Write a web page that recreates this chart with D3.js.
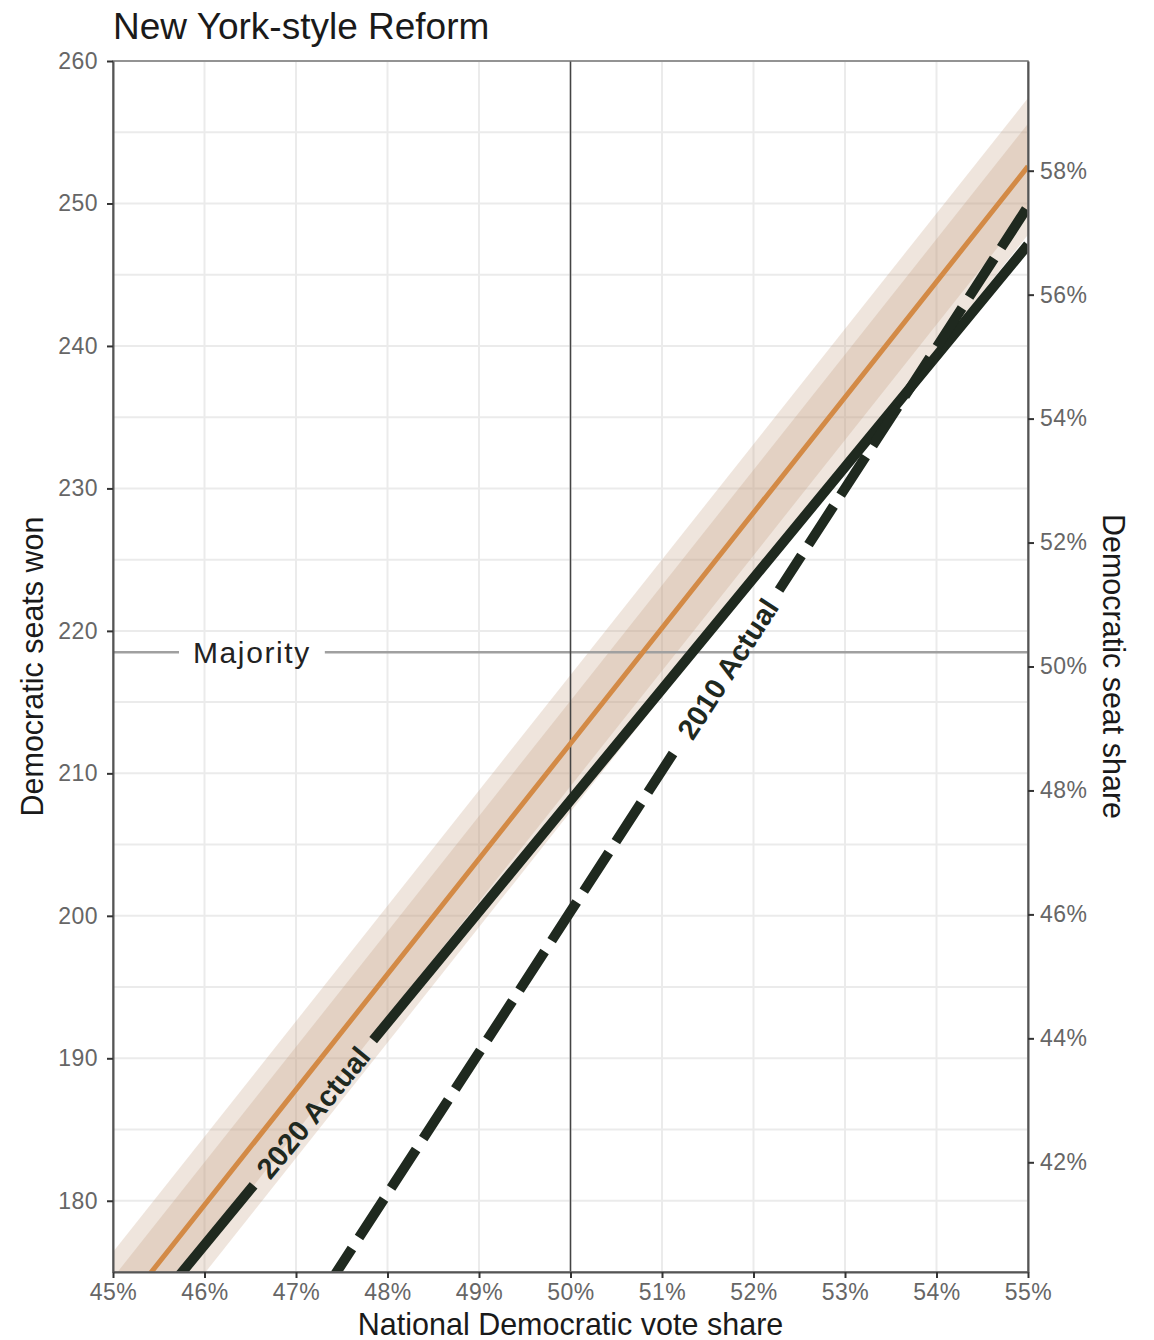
<!DOCTYPE html>
<html>
<head>
<meta charset="utf-8">
<script src="https://cdn.jsdelivr.net/npm/d3@7"></script>
<style>
  html, body { margin: 0; padding: 0; background: #fff; }
  svg { display: block; font-family: "Liberation Sans", Arial, Helvetica, sans-serif; }
</style>
</head>
<body>
<svg id="chart" width="1154" height="1340"></svg>
<script>
// National vote share (%) at which each series is recorded
const voteShare = [45, 50, 55];

// Projected Democratic seats under the reform, with its uncertainty bands
const projected  = [171.6, 212.1, 252.6];
const innerLow   = [168.6, 209.1, 249.6];
const innerHigh  = [174.6, 215.1, 255.6];
const outerLow   = [166.8, 207.3, 247.8];
const outerHigh  = [176.4, 216.9, 257.4];

// Seat curves from the actual maps
const actual2020 = [169.1, 208.1, 247.1];
const actual2010 = [150.8, 200.3, 249.8];

// Axis ticks
const xTicks = [45, 46, 47, 48, 49, 50, 51, 52, 53, 54, 55];
const yTicks = [180, 190, 200, 210, 220, 230, 240, 250, 260];
const yMinorTicks = [175, 185, 195, 205, 215, 225, 235, 245, 255];
const shareTicks = [42, 44, 46, 48, 50, 52, 54, 56, 58];
const totalSeats = 435;
const majoritySeats = 218.5;

// Labels laid on the lines (position given as vote share)
const lineLabels = [
  { text: "2020 Actual", series: actual2020, at: 47.19 },
  { text: "2010 Actual", series: actual2010, at: 51.72 }
];

const svg = d3.select("#chart");
const m = { left: 113, right: 1028, top: 61, bottom: 1272 };

const x = d3.scaleLinear().domain([45, 55]).range([m.left, m.right]);
const y = d3.scaleLinear().domain([175, 260]).range([m.bottom, m.top]);

const grid = "#ebebeb";
const dark = "#1f291f";
const orange = "#d38a46";
const bandFill = "rgb(190,150,120)";

const defs = svg.append("defs");
defs.append("clipPath").attr("id", "plotClip")
  .append("rect")
  .attr("x", m.left).attr("y", m.top)
  .attr("width", m.right - m.left).attr("height", m.bottom - m.top);

// Grid
const g = svg.append("g");
g.selectAll(".hminor").data(yMinorTicks).join("line")
  .attr("x1", m.left).attr("x2", m.right)
  .attr("y1", d => y(d)).attr("y2", d => y(d))
  .attr("stroke", grid).attr("stroke-width", 2);
g.selectAll(".hmajor").data(yTicks).join("line")
  .attr("x1", m.left).attr("x2", m.right)
  .attr("y1", d => y(d)).attr("y2", d => y(d))
  .attr("stroke", grid).attr("stroke-width", 2);
g.selectAll(".vmajor").data(xTicks).join("line")
  .attr("x1", d => x(d)).attr("x2", d => x(d))
  .attr("y1", m.top).attr("y2", m.bottom)
  .attr("stroke", grid).attr("stroke-width", 2);

const plot = svg.append("g").attr("clip-path", "url(#plotClip)");

// Uncertainty ribbons
const rows = voteShare.map((v, i) => ({ v, i }));
const area = (lo, hi) => d3.area()
  .x(d => x(d.v)).y0(d => y(lo[d.i])).y1(d => y(hi[d.i]));
plot.append("path").datum(rows).attr("d", area(outerLow, outerHigh)(rows))
  .attr("fill", bandFill).attr("fill-opacity", 0.25);
plot.append("path").datum(rows).attr("d", area(innerLow, innerHigh)(rows))
  .attr("fill", bandFill).attr("fill-opacity", 0.25);

// Majority line with a break for its label
const majY = y(majoritySeats);
const majLabelX = 193;
const majText = svg.append("text")
  .attr("x", majLabelX).attr("y", majY)
  .attr("dominant-baseline", "central")
  .attr("font-size", 30).attr("fill", "#222")
  .attr("letter-spacing", 1.6)
  .text("Majority");
const majW = majText.node().getComputedTextLength();
plot.append("line")
  .attr("x1", m.left).attr("x2", majLabelX - 14)
  .attr("y1", majY).attr("y2", majY)
  .attr("stroke", "#a0a0a0").attr("stroke-width", 2.5);
plot.append("line")
  .attr("x1", majLabelX + majW + 14).attr("x2", m.right)
  .attr("y1", majY).attr("y2", majY)
  .attr("stroke", "#a0a0a0").attr("stroke-width", 2.5);

// 50% vote share reference line
plot.append("line")
  .attr("x1", x(50)).attr("x2", x(50))
  .attr("y1", m.top).attr("y2", m.bottom)
  .attr("stroke", "#444").attr("stroke-width", 1.5);

// Helpers for line labels
const lineAt = (series, v) => {
  const s = d3.scaleLinear().domain(voteShare).range(series);
  return s(v);
};
const lineGen = series => d3.line()
  .x(d => x(d.v)).y(d => y(series[d.i]));

// Label geometry and masks that open a gap in each labelled line
const labelFont = 29;
lineLabels.forEach((lab, k) => {
  const ang = -Math.atan2(y(lab.series[2]) - y(lab.series[0]), x(55) - x(45)) * 180 / Math.PI;
  lab.cx = x(lab.at);
  lab.cy = y(lineAt(lab.series, lab.at));
  lab.angle = -ang;
  const tmp = svg.append("text").attr("font-size", labelFont).attr("font-weight", "bold").text(lab.text);
  lab.w = tmp.node().getComputedTextLength();
  tmp.remove();
  const mask = defs.append("mask").attr("id", "gap" + k).attr("maskUnits", "userSpaceOnUse")
    .attr("x", 0).attr("y", 0).attr("width", 1154).attr("height", 1340);
  mask.append("rect").attr("x", 0).attr("y", 0).attr("width", 1154).attr("height", 1340).attr("fill", "#fff");
  const pad = 14;
  mask.append("rect")
    .attr("x", -lab.w / 2 - pad).attr("y", -30)
    .attr("width", lab.w + 2 * pad).attr("height", 60)
    .attr("fill", "#000")
    .attr("transform", `translate(${lab.cx},${lab.cy}) rotate(${lab.angle})`);
});

// Projected seats
plot.append("path").datum(rows).attr("d", lineGen(projected)(rows))
  .attr("fill", "none").attr("stroke", orange).attr("stroke-width", 5);

// 2020 actual (solid)
plot.append("g").attr("mask", "url(#gap0)")
  .append("path").datum(rows).attr("d", lineGen(actual2020)(rows))
  .attr("fill", "none").attr("stroke", dark).attr("stroke-width", 10);

// 2010 actual (dashed)
plot.append("g").attr("mask", "url(#gap1)")
  .append("path").datum(rows).attr("d", lineGen(actual2010)(rows))
  .attr("fill", "none").attr("stroke", dark).attr("stroke-width", 10)
  .attr("stroke-dasharray", "46,13").attr("stroke-dashoffset", 20);

// Line labels
lineLabels.forEach(lab => {
  svg.append("text")
    .attr("transform", `translate(${lab.cx},${lab.cy}) rotate(${lab.angle})`)
    .attr("text-anchor", "middle").attr("dominant-baseline", "central")
    .attr("font-size", labelFont).attr("font-weight", "bold").attr("fill", dark)
    .text(lab.text);
});

// Panel border
svg.append("rect")
  .attr("x", m.left).attr("y", m.top)
  .attr("width", m.right - m.left).attr("height", m.bottom - m.top)
  .attr("fill", "none").attr("stroke", "#777").attr("stroke-width", 1.5);

// Axes
const tickColor = "#666";
const axisStyle = sel => {
  sel.select(".domain").attr("stroke", "#555").attr("stroke-width", 2);
  sel.selectAll(".tick line").attr("stroke", "#333").attr("stroke-width", 2);
  sel.selectAll(".tick text").attr("fill", tickColor).attr("font-size", 23)
    .attr("letter-spacing", 0.5)
    .attr("font-family", "'Liberation Sans', Arial, sans-serif");
};

svg.append("g").attr("transform", `translate(0,${m.bottom})`)
  .call(d3.axisBottom(x).tickValues(xTicks).tickFormat(d => d + "%").tickSize(6).tickPadding(6).tickSizeOuter(0))
  .call(axisStyle);

svg.append("g").attr("transform", `translate(${m.left},0)`)
  .call(d3.axisLeft(y).tickValues(yTicks).tickSize(6).tickPadding(9).tickSizeOuter(0))
  .call(axisStyle);

const yShare = d3.scaleLinear()
  .domain([175 / totalSeats * 100, 260 / totalSeats * 100])
  .range([m.bottom, m.top]);
svg.append("g").attr("transform", `translate(${m.right},0)`)
  .call(d3.axisRight(yShare).tickValues(shareTicks).tickFormat(d => d + "%").tickSize(6).tickPadding(6).tickSizeOuter(0))
  .call(axisStyle);

// Titles
svg.append("text")
  .attr("x", 113).attr("y", 39)
  .attr("font-size", 37).attr("fill", "#1a1a1a")
  .text("New York-style Reform");

svg.append("text")
  .attr("x", (m.left + m.right) / 2).attr("y", 1335)
  .attr("text-anchor", "middle")
  .attr("font-size", 30.5).attr("fill", "#1a1a1a")
  .text("National Democratic vote share");

svg.append("text")
  .attr("transform", `translate(43,${(m.top + m.bottom) / 2}) rotate(-90)`)
  .attr("text-anchor", "middle")
  .attr("font-size", 30.5).attr("fill", "#1a1a1a")
  .text("Democratic seats won");

svg.append("text")
  .attr("transform", `translate(1103,${(m.top + m.bottom) / 2}) rotate(90)`)
  .attr("text-anchor", "middle")
  .attr("font-size", 30.5).attr("fill", "#1a1a1a")
  .text("Democratic seat share");
</script>
</body>
</html>
